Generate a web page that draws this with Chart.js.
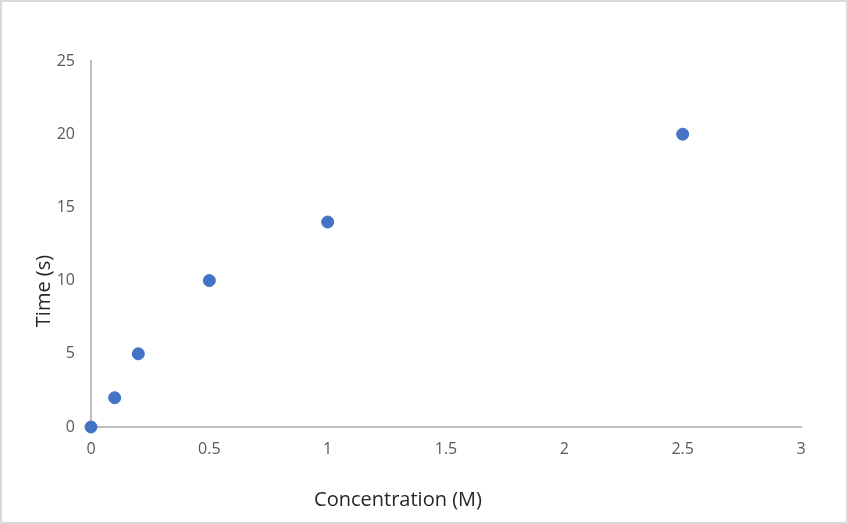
<!DOCTYPE html>
<html>
<head>
<meta charset="utf-8">
<script src="https://cdn.jsdelivr.net/npm/chart.js@4"></script>
<style>
  html, body { margin: 0; padding: 0; background: #fff; }
  #wrap { width: 848px; height: 524px; box-sizing: border-box; border: 2px solid #d9d9d9; }
  canvas { display: block; }
</style>
</head>
<body>
<div id="wrap"><canvas id="chart" width="844" height="520"></canvas></div>
<script>
// datos
const concentration = [0, 0.1, 0.2, 0.5, 1, 2.5];
const time = [0, 2, 5, 10, 14, 20];
const xTitle = 'Concentration (M)';
const yTitle = 'Time (s)';

const points = concentration.map((c, i) => ({ x: c, y: time[i] }));

// títulos de los ejes, colocados como en Excel
const axisTitles = {
    id: 'axisTitles',
    afterDraw(chart) {
        const { ctx, chartArea } = chart;
        ctx.save();
        ctx.fillStyle = '#262626';
        ctx.font = '20px "Open Sans"';
        ctx.textAlign = 'center';
        ctx.textBaseline = 'middle';
        ctx.fillText(xTitle, chartArea.left + 307, chartArea.bottom + 73);
        ctx.translate(chartArea.left - 47, chartArea.top + 230);
        ctx.rotate(-Math.PI / 2);
        ctx.fillText(yTitle, 0, 0);
        ctx.restore();
    }
};

const tickFont = { family: 'Open Sans', size: 16 };

new Chart(document.getElementById('chart').getContext('2d'), {
    type: 'scatter',
    data: {
        datasets: [{
            data: points,
            backgroundColor: '#4472c4',
            borderColor: '#4472c4',
            pointRadius: 6,
            pointHoverRadius: 6,
            clip: false
        }]
    },
    options: {
        responsive: false,
        animation: false,
        devicePixelRatio: 1,
        layout: { padding: { top: 59, right: 45, left: 0, bottom: 0 } },
        plugins: { legend: { display: false }, tooltip: { enabled: false } },
        scales: {
            x: {
                type: 'linear',
                min: 0,
                max: 3,
                afterFit: scale => { scale.height = 95; },
                ticks: {
                    stepSize: 0.5,
                    color: '#595959',
                    font: tickFont,
                    padding: 13,
                    callback: v => String(v)
                },
                grid: { display: false, drawTicks: false },
                border: { color: '#bfbfbf', width: 2 }
            },
            y: {
                min: 0,
                max: 25,
                afterFit: scale => { scale.width = 89; },
                ticks: { stepSize: 5, color: '#595959', font: tickFont, padding: 16 },
                grid: { display: false, drawTicks: false },
                border: { color: '#bfbfbf', width: 2 }
            }
        }
    },
    plugins: [axisTitles]
});
</script>
</body>
</html>
